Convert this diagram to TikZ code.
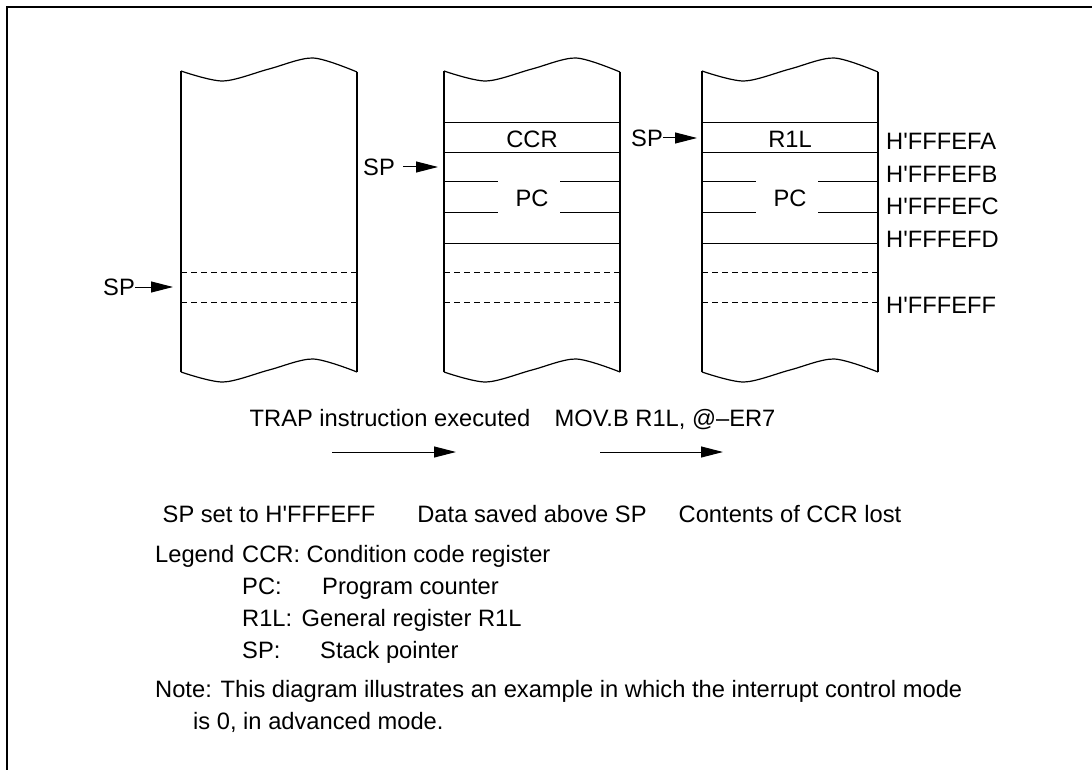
\documentclass[tikz,border=0pt]{standalone}
\usepackage{fontspec}
\setmainfont{Liberation Sans}[Ligatures=TeXOff]
\usetikzlibrary{arrows.meta}
\begin{document}
\begin{tikzpicture}[x=1pt,y=-1pt,
  lbl/.style={inner sep=0pt, text height=17pt, text depth=0pt, font=\fontsize{23.7}{28}\selectfont},
  ln/.style={line width=1.2pt},
  thinln/.style={line width=1pt},
  dsh/.style={line width=1pt, dash pattern=on 6pt off 4pt},
  arr/.style={line width=1pt, -{Triangle[length=22pt,width=11pt]}},
]
\useasboundingbox (0,0) rectangle (1092,770);
% frame
\draw[ln] (7,770) -- (7,7) -- (1092,7);

\newcommand\stackcolumn[1]{%
 \begin{scope}[shift={(#1,0)}]
   \draw[ln] (0,71) -- (0,372);
   \draw[ln] (176,72) -- (176,372);
   \draw[ln] plot[smooth] coordinates {(0,71) (42,81) (88,69) (132,58) (176,72)};
   \draw[ln] plot[smooth] coordinates {(0,372) (42,382) (88,370) (132,359) (176,372)};
   \draw[dsh] (0,272) -- (176,272);
   \draw[dsh] (0,302) -- (176,302);
 \end{scope}}
\newcommand\stackrows[1]{%
 \begin{scope}[shift={(#1,0)}]
   \draw[thinln] (0,123) -- (176,123);
   \draw[thinln] (0,153) -- (176,153);
   \draw[thinln] (0,243) -- (176,243);
   \draw[thinln] (0,182) -- (54,182);
   \draw[thinln] (0,213) -- (54,213);
   \draw[thinln] (116,182) -- (176,182);
   \draw[thinln] (116,213) -- (176,213);
 \end{scope}}

\stackcolumn{181}
\stackcolumn{444}
\stackcolumn{702}
\stackrows{444}
\stackrows{702}

% cell labels
\node[lbl] (ccr) at (532,139) {CCR};
\node[lbl] (pcb) at (532,198) {PC};
\node[lbl] (rl) at (790,139) {R1L};
\node[lbl] (pcc) at (790,198) {PC};

% SP pointers
\node[lbl, anchor=west] (spa) at (103,287) {SP};
\coordinate (spat) at (173,287);
\draw[arr] (spa.east) -- (spat);
\node[lbl, anchor=west] (spb) at (363,167) {SP};
\coordinate (spbt) at (438,167);
\draw[arr] ([xshift=8pt]spb.east) -- (spbt);
\node[lbl, anchor=west] (spc) at (631,138) {SP};
\coordinate (spct) at (697,138);
\draw[arr] (spc.east) -- (spct);

% addresses
\node[lbl, anchor=west] (afa) at (886,141) {H'FFFEFA};
\node[lbl, anchor=west] (afb) at (886,174) {H'FFFEFB};
\node[lbl, anchor=west] (afc) at (886,206) {H'FFFEFC};
\node[lbl, anchor=west] (afd) at (886,239) {H'FFFEFD};
\node[lbl, anchor=west] (aff) at (886,305) {H'FFFEFF};

% transitions
\node[lbl] (trap) at (390,418) {TRAP instruction executed};
\node[lbl] (mov) at (665,418) {MOV.B R1L, @–ER7};
\coordinate (a1s) at (332,452);
\coordinate (a1e) at (456,452);
\coordinate (a2s) at (600,452);
\coordinate (a2e) at (723,452);
\draw[arr] (a1s) -- (a1e);
\draw[arr] (a2s) -- (a2e);

\node[lbl] (capa) at (269,514) {SP set to H'FFFEFF};
\node[lbl] (capb) at (532,514) {Data saved above SP};
\node[lbl] (capc) at (790,514) {Contents of CCR lost};

% legend
\node[lbl, anchor=west] (leg) at (155,554) {Legend};
\node[lbl, anchor=west] (l1) at (242,554) {CCR: Condition code register};
\node[lbl, anchor=west] (l2) at (242,586) {PC:};
\node[lbl, anchor=west] (l2b) at (322,586) {Program counter};
\node[lbl, anchor=west] (l3) at (242,618) {R1L:};
\node[lbl, anchor=west] (l3b) at ([xshift=9pt]l3.east) {General register R1L};
\node[lbl, anchor=west] (l4) at (242,650) {SP:};
\node[lbl, anchor=west] (l4b) at (320,650) {Stack pointer};

\node[lbl, anchor=west] (note) at (155,689) {Note: This diagram illustrates an example in which the interrupt control mode};
\node[lbl, anchor=west] (note2) at (193,721) {is 0, in advanced mode.};
\end{tikzpicture}
\end{document}
